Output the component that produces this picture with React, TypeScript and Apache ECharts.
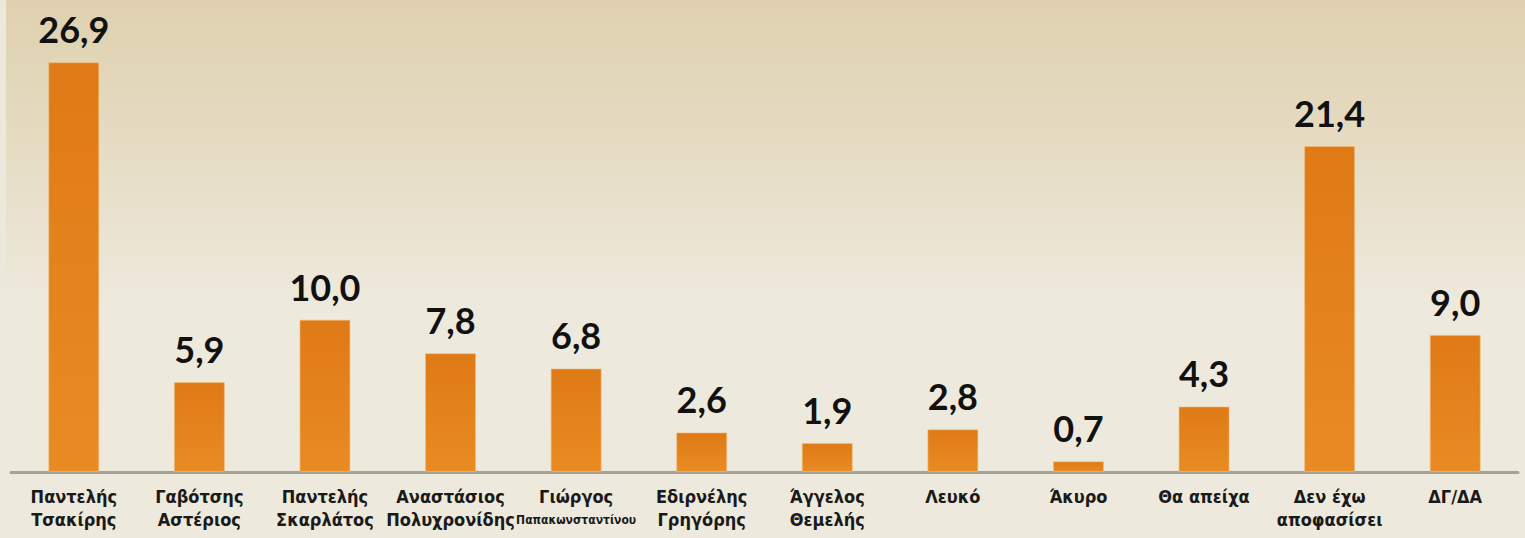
import React, { useEffect, useRef } from "react";
import * as echarts from "echarts";

const categories = [
  "Παντελής\nΤσακίρης",
  "Γαβότσης\nΑστέριος",
  "Παντελής\nΣκαρλάτος",
  "Αναστάσιος\nΠολυχρονίδης",
  "Γιώργος\n{small|Παπακωνσταντίνου}",
  "Εδιρνέλης\nΓρηγόρης",
  "Άγγελος\nΘεμελής",
  "Λευκό",
  "Άκυρο",
  "Θα απείχα",
  "Δεν έχω\nαποφασίσει",
  "ΔΓ/ΔΑ",
];
const values = [26.9, 5.9, 10.0, 7.8, 6.8, 2.6, 1.9, 2.8, 0.7, 4.3, 21.4, 9.0];

const labelFont = "'DejaVu Sans Condensed', 'Liberation Sans Narrow', sans-serif";

export default function App() {
  const ref = useRef<HTMLDivElement>(null);
  useEffect(() => {
    if (!ref.current) return;
    const chart = echarts.init(ref.current, undefined, { renderer: "svg" });
    chart.setOption({
      animation: false,
      backgroundColor: "transparent",
      grid: { left: 11, right: 7, top: 15, bottom: 66, containLabel: false },
      xAxis: {
        type: "category",
        data: categories,
        axisTick: { show: false },
        axisLine: { show: true, lineStyle: { color: "#a3a39a", width: 3 } },
        axisLabel: {
          interval: 0,
          margin: 13,
          color: "#1a1a1a",
          fontFamily: labelFont,
          fontWeight: "bold",
          fontSize: 18,
          lineHeight: 23,
          rich: {
            small: {
              fontFamily: labelFont,
              fontWeight: "bold",
              fontSize: 12,
              lineHeight: 23,
              color: "#1a1a1a",
            },
          },
        },
      },
      yAxis: {
        type: "value",
        min: 0,
        max: 30,
        show: false,
        splitLine: { show: false },
      },
      series: [
        {
          type: "bar",
          data: values,
          barWidth: 51,
          itemStyle: {
            color: new echarts.graphic.LinearGradient(0, 0, 0, 1, [
              { offset: 0, color: "#df7a17" },
              { offset: 1, color: "#e98b22" },
            ]),
            borderColor: "rgba(245,190,120,0.6)",
            borderWidth: 1,
          },
          label: {
            show: true,
            position: "top",
            distance: 15,
            color: "#111111",
            fontFamily: "Lato, 'Open Sans', sans-serif",
            fontWeight: "bold",
            fontSize: 36,
            formatter: (p: any) => p.value.toFixed(1).replace(".", ","),
          },
        },
      ],
    });
    return () => chart.dispose();
  }, []);

  return (
    <div style={{ position: "absolute", left: 0, top: 0, width: 1525, height: 538, background: "#ece9dc" }}>
      <div
        style={{
          position: "absolute",
          left: 6,
          top: 0,
          right: 0,
          bottom: 0,
          background: "linear-gradient(to bottom, #dfd1b0 0%, #e6dcc3 28%, #ede9dc 56%, #ede9dc 100%)",
        }}
      />
      <div ref={ref} style={{ position: "absolute", left: 0, top: 0, width: 1525, height: 538 }} />
    </div>
  );
}
